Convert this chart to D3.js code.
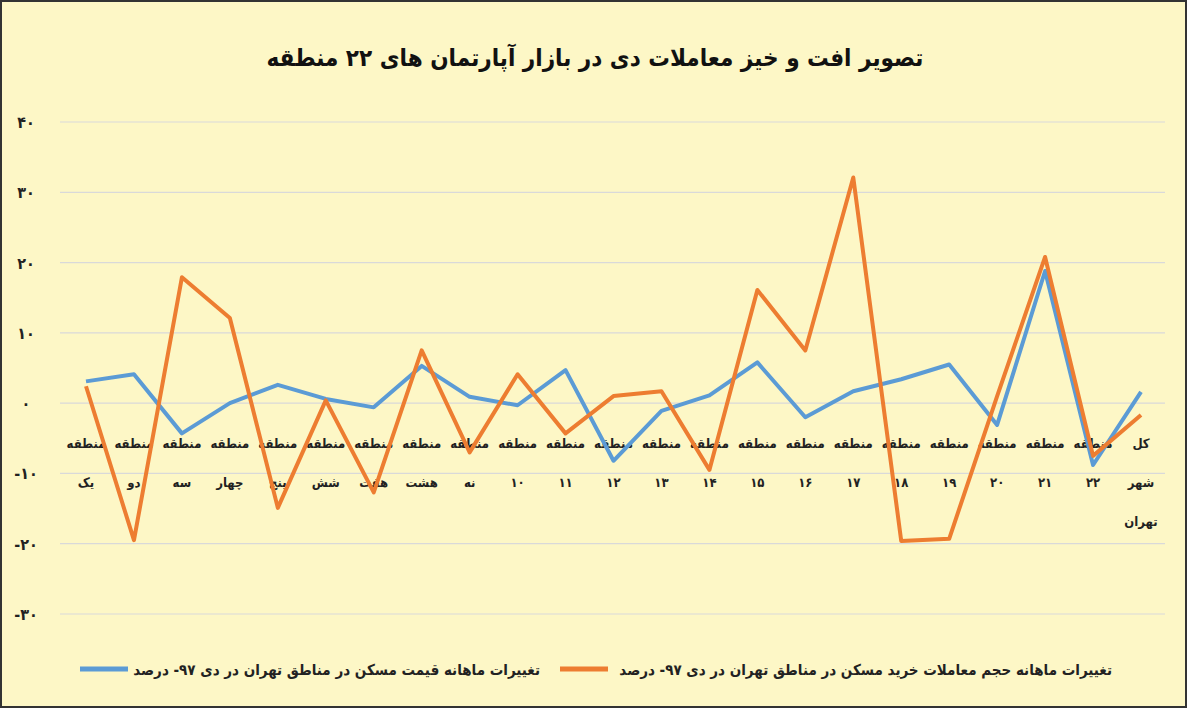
<!DOCTYPE html>
<html><head><meta charset="utf-8">
<script src="https://cdn.jsdelivr.net/npm/d3@7"></script>
<style>body{margin:0;background:#fff}</style>
</head><body>
<div id="chart"></div>
<script>
// category labels (lines), series values
var categories = [
  ["منطقه","یک"],["منطقه","دو"],["منطقه","سه"],["منطقه","چهار"],["منطقه","پنج"],
  ["منطقه","شش"],["منطقه","هفت"],["منطقه","هشت"],["منطقه","نه"],["منطقه","۱۰"],
  ["منطقه","۱۱"],["منطقه","۱۲"],["منطقه","۱۳"],["منطقه","۱۴"],["منطقه","۱۵"],
  ["منطقه","۱۶"],["منطقه","۱۷"],["منطقه","۱۸"],["منطقه","۱۹"],["منطقه","۲۰"],
  ["منطقه","۲۱"],["منطقه","۲۲"],["کل","شهر","تهران"]
];
var priceChange = [3.1,4.1,-4.3,0,2.6,0.6,-0.6,5.3,0.9,-0.3,4.7,-8.2,-1.1,1.1,5.8,-2,1.7,3.4,5.5,-3.1,18.8,-8.8,1.6];
var volumeChange = [2.4,-19.5,17.9,12.1,-14.9,0.4,-12.7,7.5,-7,4.1,-4.3,1,1.7,-9.5,16.1,7.5,32.1,-19.6,-19.3,1,20.8,-7.5,-1.7];
var yTicks = [40,30,20,10,0,-10,-20,-30];
var tickLabels = ["۴۰","۳۰","۲۰","۱۰","۰","-۱۰","-۲۰","-۳۰"];
var seriesNames = ["تغییرات ماهانه قیمت مسکن در مناطق تهران در دی ۹۷- درصد",
                   "تغییرات ماهانه حجم معاملات خرید مسکن در مناطق تهران در دی ۹۷- درصد"];
var title = "تصویر افت و خیز معاملات دی در بازار آپارتمان های ۲۲ منطقه";

var W = 1187, H = 708;
var blue = "#5b9bd5", orange = "#ed7d31";
var svg = d3.select("#chart").append("svg").attr("width", W).attr("height", H)
  .style("font-family", "'DejaVu Sans Condensed', 'DejaVu Sans', sans-serif");
svg.append("rect").attr("x",1).attr("y",1).attr("width",W-2).attr("height",H-2)
  .attr("fill","#fdf7c6").attr("stroke","#333").attr("stroke-width",2);

var y = d3.scaleLinear().domain([-30,40]).range([614,122]);
var x = d3.scalePoint().domain(d3.range(categories.length)).range([86,1141]);

svg.append("text").attr("x",595).attr("y",66).attr("text-anchor","middle")
  .attr("font-size",24).attr("font-weight","bold").attr("fill","#111").text(title);

svg.append("g").selectAll("line").data(yTicks).join("line")
  .attr("x1",60).attr("x2",1165).attr("y1",d=>y(d)).attr("y2",d=>y(d))
  .attr("stroke","#d9d9d9").attr("stroke-width",1.2);
svg.append("g").selectAll("text").data(yTicks).join("text")
  .attr("x",26).attr("y",d=>y(d)+6).attr("text-anchor","middle")
  .attr("font-size",16).attr("font-weight","bold").attr("fill","#222")
  .text((d,i)=>tickLabels[i]);

var lab = svg.append("g").selectAll("g").data(categories).join("g")
  .attr("transform",(d,i)=>"translate("+x(i)+",0)");
lab.selectAll("text").data(d=>d).join("text")
  .attr("y",(d,j)=>448+j*39).attr("text-anchor","middle")
  .attr("font-size",13).attr("font-weight","bold").attr("fill","#222").text(d=>d);

var line = d3.line().x((d,i)=>x(i)).y(d=>y(d));
svg.append("path").attr("d",line(priceChange)).attr("fill","none")
  .attr("stroke",blue).attr("stroke-width",4).attr("stroke-linejoin","round");
svg.append("path").attr("d",line(volumeChange)).attr("fill","none")
  .attr("stroke",orange).attr("stroke-width",4).attr("stroke-linejoin","round");

// legend
var lg = [{c:blue,t:seriesNames[0],x1:80,x2:128,tx:540},{c:orange,t:seriesNames[1],x1:560,x2:608,tx:1112}];
var leg = svg.append("g").selectAll("g").data(lg).join("g");
leg.append("line").attr("x1",d=>d.x1).attr("x2",d=>d.x2).attr("y1",669).attr("y2",669)
  .attr("stroke",d=>d.c).attr("stroke-width",5);
leg.append("text").attr("x",d=>d.tx).attr("y",675).attr("text-anchor","start")
  .attr("direction","rtl").attr("font-size",15).attr("font-weight","bold").attr("fill","#222")
  .text(d=>d.t);
</script>
</body></html>
